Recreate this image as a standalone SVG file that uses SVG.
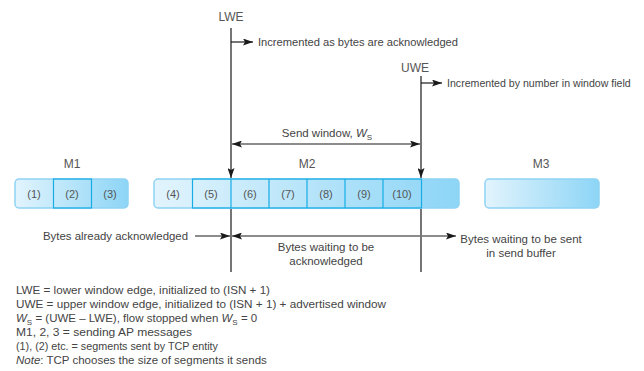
<svg xmlns="http://www.w3.org/2000/svg" width="644" height="371" viewBox="0 0 644 371">
<style>
text{font-family:"Liberation Sans",Arial,sans-serif;fill:#444;font-size:11.5px}
.lbl{fill:#555;font-size:12px}
.cell{fill:#555;font-size:11px;text-anchor:middle}
.sm{font-size:10.6px}
.ln{stroke:#1a1a1a;stroke-width:1.2;fill:none}
.arr{stroke:#1a1a1a;stroke-width:1.2;fill:none;marker-end:url(#ah)}
.box{fill:url(#g);stroke:#8fd3f3;stroke-width:1.5}
.cy{fill:none;stroke:#17ace6;stroke-width:1.2}
.it{font-style:italic}
</style>
<defs>
<linearGradient id="g" x1="0" y1="0" x2="1" y2="0">
<stop offset="0" stop-color="#e2f4fd"/>
<stop offset="1" stop-color="#8dd5f6"/>
</linearGradient>
<marker id="ah" markerUnits="userSpaceOnUse" markerWidth="11" markerHeight="7" refX="10" refY="3.5" orient="auto-start-reverse">
<path d="M0,0 L10,3.5 L0,7 L2,3.5 z" fill="#1a1a1a"/>
</marker>
</defs>

<g id="M1">
<text class="lbl" x="72" y="168" text-anchor="middle">M1</text>
<rect class="box" x="15" y="179" width="113" height="29" rx="4"/>
<rect class="cy" x="53.5" y="179" width="38" height="29"/>
<text class="cell" x="34" y="198">(1)</text>
<text class="cell" x="72" y="198">(2)</text>
<text class="cell" x="110" y="198">(3)</text>
</g>

<g id="M2">
<text class="lbl" x="307" y="168" text-anchor="middle">M2</text>
<rect class="box" x="154" y="179" width="305" height="29" rx="4"/>
<rect class="cy" x="192.5" y="179" width="229" height="29"/>
<path class="cy" d="M231,179V208M269,179V208M307,179V208M345,179V208M383,179V208"/>
<text class="cell" x="173" y="198">(4)</text>
<text class="cell" x="211" y="198">(5)</text>
<text class="cell" x="250" y="198">(6)</text>
<text class="cell" x="288" y="198">(7)</text>
<text class="cell" x="326" y="198">(8)</text>
<text class="cell" x="364" y="198">(9)</text>
<text class="cell" x="402" y="198">(10)</text>
</g>

<g id="M3">
<text class="lbl" x="541" y="168" text-anchor="middle">M3</text>
<rect class="box" x="485" y="179" width="114" height="29" rx="4"/>
</g>

<g id="LWE">
<text class="lbl" x="231" y="21" text-anchor="middle">LWE</text>
<text x="258" y="46" textLength="200" lengthAdjust="spacingAndGlyphs">Incremented as bytes are acknowledged</text>
</g>

<g id="UWE">
<text class="lbl" x="415" y="72" text-anchor="middle">UWE</text>
<text class="sm" x="447" y="87">Incremented by number in window field</text>
</g>

<g id="connectors">
<line class="arr" x1="231" y1="28" x2="231" y2="178"/>
<line class="ln" x1="231" y1="209" x2="231" y2="272"/>
<line class="arr" x1="231" y1="42" x2="253" y2="42"/>
<line class="arr" x1="421" y1="76" x2="421" y2="178"/>
<line class="ln" x1="421" y1="209" x2="421" y2="272"/>
<line class="arr" x1="421" y1="83" x2="442" y2="83"/>
<line class="arr" x1="326" y1="144" x2="232" y2="144"/>
<line class="arr" x1="326" y1="144" x2="420" y2="144"/>
<line class="arr" x1="195" y1="236" x2="230" y2="236"/>
<line class="arr" x1="420" y1="236" x2="232" y2="236"/>
<line class="arr" x1="422" y1="236" x2="456" y2="236"/>
</g>

<g id="labels">
<text x="327" y="137" text-anchor="middle">Send window, <tspan class="it">W</tspan><tspan font-size="8" dy="3">S</tspan></text>
<text x="43" y="240" textLength="145" lengthAdjust="spacingAndGlyphs">Bytes already acknowledged</text>
<text x="326" y="251" text-anchor="middle">Bytes waiting to be</text>
<text x="326" y="265" text-anchor="middle">acknowledged</text>
<text x="521" y="243" text-anchor="middle">Bytes waiting to be sent</text>
<text x="521" y="257" text-anchor="middle">in send buffer</text>
</g>

<g id="legend">
<text x="16" y="294" textLength="254" lengthAdjust="spacingAndGlyphs">LWE = lower window edge, initialized to (ISN + 1)</text>
<text x="16" y="308" textLength="370" lengthAdjust="spacingAndGlyphs">UWE = upper window edge, initialized to (ISN + 1) + advertised window</text>
<text x="16" y="322"><tspan class="it">W</tspan><tspan font-size="8" dy="3">S</tspan><tspan dy="-3"> = (UWE – LWE), flow stopped when </tspan><tspan class="it">W</tspan><tspan font-size="8" dy="3">S</tspan><tspan dy="-3"> = 0</tspan></text>
<text x="16" y="336" textLength="176" lengthAdjust="spacingAndGlyphs">M1, 2, 3 = sending AP messages</text>
<text x="16" y="350" textLength="202" lengthAdjust="spacingAndGlyphs">(1), (2) etc. = segments sent by TCP entity</text>
<text x="16" y="364"><tspan class="it">Note</tspan>: TCP chooses the size of segments it sends</text>
</g>
</svg>
